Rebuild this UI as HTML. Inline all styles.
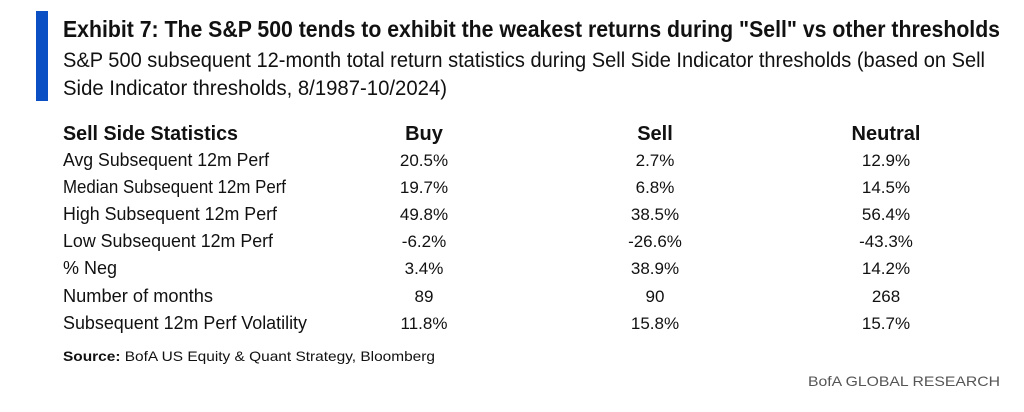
<!DOCTYPE html>
<html><head><meta charset="utf-8"><style>
html,body{margin:0;padding:0;background:#fff;}
svg{display:block;}
text{font-family:"Liberation Sans",sans-serif;fill:#111;}
.b{font-weight:bold;}
.c{text-anchor:middle;}
</style></head><body>
<svg width="1024" height="412" viewBox="0 0 1024 412" xmlns="http://www.w3.org/2000/svg">
<rect x="36" y="11" width="12" height="90" fill="#0a50c4"/>
<text x="63" y="37" font-size="23" class="b" textLength="937" lengthAdjust="spacingAndGlyphs">Exhibit 7: The S&amp;P 500 tends to exhibit the weakest returns during "Sell" vs other thresholds</text>
<text x="63" y="67" font-size="21" fill="#222" textLength="922" lengthAdjust="spacingAndGlyphs">S&amp;P 500 subsequent 12-month total return statistics during Sell Side Indicator thresholds (based on Sell</text>
<text x="63" y="95" font-size="21" textLength="384" lengthAdjust="spacingAndGlyphs">Side Indicator thresholds, 8/1987-10/2024)</text>
<g font-size="20" class="b">
<text x="63" y="140" class="b" textLength="175" lengthAdjust="spacingAndGlyphs">Sell Side Statistics</text>
<text x="424" y="140" class="b c">Buy</text>
<text x="655" y="140" class="b c">Sell</text>
<text x="886" y="140" class="b c">Neutral</text>
</g>
<g font-size="18">
<text x="63" y="166" textLength="206" lengthAdjust="spacingAndGlyphs">Avg Subsequent 12m Perf</text>
<text x="63" y="193" textLength="223" lengthAdjust="spacingAndGlyphs">Median Subsequent 12m Perf</text>
<text x="63" y="220" textLength="214" lengthAdjust="spacingAndGlyphs">High Subsequent 12m Perf</text>
<text x="63" y="247" textLength="210" lengthAdjust="spacingAndGlyphs">Low Subsequent 12m Perf</text>
<text x="63" y="274" textLength="54" lengthAdjust="spacingAndGlyphs">% Neg</text>
<text x="63" y="302" textLength="150" lengthAdjust="spacingAndGlyphs">Number of months</text>
<text x="63" y="329" textLength="244" lengthAdjust="spacingAndGlyphs">Subsequent 12m Perf Volatility</text>
</g>
<g font-size="17" class="c">
<text x="424" y="166">20.5%</text><text x="655" y="166">2.7%</text><text x="886" y="166">12.9%</text>
<text x="424" y="193">19.7%</text><text x="655" y="193">6.8%</text><text x="886" y="193">14.5%</text>
<text x="424" y="220">49.8%</text><text x="655" y="220">38.5%</text><text x="886" y="220">56.4%</text>
<text x="424" y="247">-6.2%</text><text x="655" y="247">-26.6%</text><text x="886" y="247">-43.3%</text>
<text x="424" y="274">3.4%</text><text x="655" y="274">38.9%</text><text x="886" y="274">14.2%</text>
<text x="424" y="302">89</text><text x="655" y="302">90</text><text x="886" y="302">268</text>
<text x="424" y="329">11.8%</text><text x="655" y="329">15.8%</text><text x="886" y="329">15.7%</text>
</g>
<text x="63" y="361" font-size="14" textLength="372" lengthAdjust="spacingAndGlyphs"><tspan font-weight="bold">Source:</tspan> BofA US Equity &amp; Quant Strategy, Bloomberg</text>
<text x="808" y="386" font-size="14" style="fill:#555" textLength="192" lengthAdjust="spacingAndGlyphs">BofA GLOBAL RESEARCH</text>
</svg>
</body></html>
